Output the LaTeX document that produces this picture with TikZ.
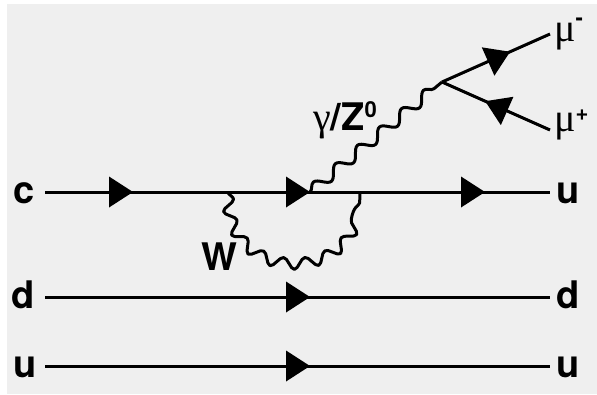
\documentclass[tikz,border=0pt]{standalone}
\usepackage{fontspec}
\usetikzlibrary{decorations.pathmorphing,decorations.markings}
\newfontfamily\labfont{TeX Gyre Heros}
\newfontfamily\grkfont{Liberation Serif}
\definecolor{panel}{RGB}{239,239,239}
\newcommand{\bigsans}{\labfont\bfseries\fontsize{38}{38}\selectfont}
\newcommand{\smallsans}{\labfont\bfseries\fontsize{22}{22}\selectfont}
\newcommand{\greek}{\grkfont\fontsize{40}{40}\selectfont}

\begin{document}
\begin{tikzpicture}[x=1pt,y=-1pt,
  quark/.style={line width=3pt},
  photon/.style={line width=3pt, line join=round, decorate,
    decoration={snake, amplitude=5.5pt, segment length=#1}},
  tipat/.style={postaction={decorate, decoration={markings,
    mark=at position #1 with {\fill (0pt,0pt) -- (-24pt,15.5pt) -- (-24pt,-15.5pt) -- cycle;}}}},
  lab/.style={font=\bigsans, inner sep=0pt, anchor=base},
  txt/.style={inner sep=0pt, anchor=base west}]

% panel
\fill[white] (0,0) rectangle (597,394);
\fill[panel] (7,4) rectangle (597,394);
\useasboundingbox (0,0) rectangle (597,394);

% line ends and vertices
\coordinate (c0) at (45,192);  \coordinate (c1) at (550,192);
\coordinate (d0) at (45,297);  \coordinate (d1) at (550,297);
\coordinate (u0) at (45,366);  \coordinate (u1) at (550,366);
\coordinate (vc) at (310,192); % photon emission vertex
\coordinate (vz) at (442,82);  % muon pair vertex
\coordinate (mm) at (550,34);
\coordinate (mp) at (550,130);
\coordinate (wl) at (228,192);
\coordinate (wr) at (360,192);

% quark lines
\draw[quark, tipat=88pt, tipat=265pt, tipat=440pt] (c0) -- (c1);
\draw[quark, tipat=265pt] (d0) -- (d1);
\draw[quark, tipat=265pt] (u0) -- (u1);

% W loop
\draw[photon=23pt] (wl) .. controls (228,280) and (360,280) .. (wr);

% gamma/Z propagator
\draw[photon=28.7pt] (vc) -- (vz);

% muons
\draw[quark, tipat=0.63] (vz) -- (mm);
\draw[quark, tipat=0.60] (mp) -- (vz);

% labels
\node[lab] (lc)  at (24,203)  {c};
\node[lab] (ru1) at (568,203) {u};
\node[lab] (ld)  at (23,308)  {d};
\node[lab] (rd)  at (568,308) {d};
\node[lab] (lu)  at (25,377)  {u};
\node[lab] (ru2) at (568,377) {u};
\node[lab] (lw)  at (219,270) {W};
\node[txt] (lz) at (313,130) {{\greek γ}{\bigsans /Z}\raisebox{13pt}{\smallsans 0}};
\node[txt] (lmm) at (554,41) {{\greek μ}\raisebox{16pt}{\smallsans -}};
\node[txt] (lmp) at (554,131) {{\greek μ}\raisebox{11pt}{\smallsans +}};
\end{tikzpicture}
\end{document}
